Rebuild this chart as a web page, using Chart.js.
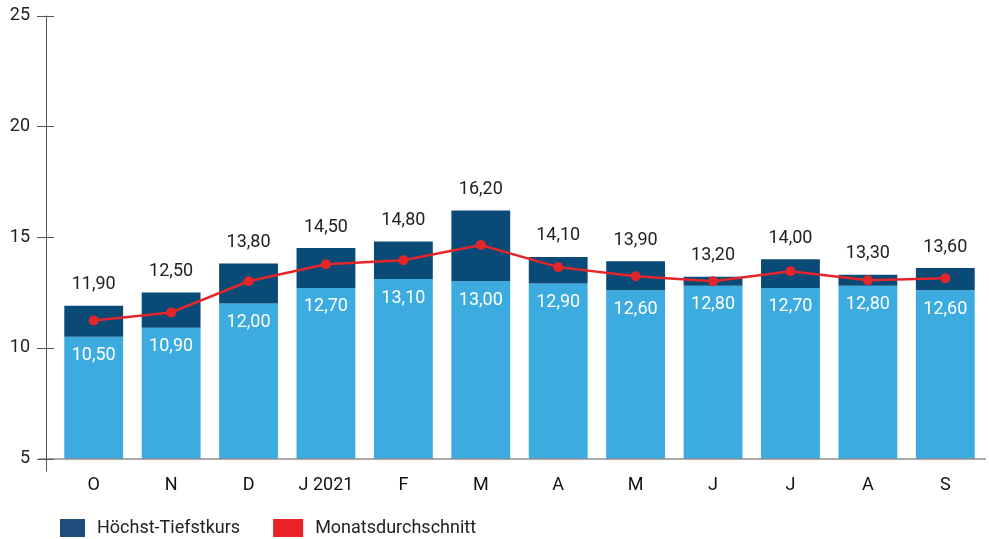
<!DOCTYPE html>
<html>
<head>
<meta charset="utf-8">
<script src="https://cdn.jsdelivr.net/npm/chart.js@4.4.1/dist/chart.umd.min.js"></script>
<style>
  html, body { margin: 0; padding: 0; background: #fff; }
  #wrap { width: 989px; height: 539px; position: relative; }
</style>
</head>
<body>
<div id="wrap"><canvas id="myChart"></canvas></div>
<script>
const months = ['O', 'N', 'D', 'J 2021', 'F', 'M', 'A', 'M', 'J', 'J', 'A', 'S'];
const lows = [10.5, 10.9, 12.0, 12.7, 13.1, 13.0, 12.9, 12.6, 12.8, 12.7, 12.8, 12.6];
const highs = [11.9, 12.5, 13.8, 14.5, 14.8, 16.2, 14.1, 13.9, 13.2, 14.0, 13.3, 13.6];
const averages = [11.23, 11.59, 13.0, 13.77, 13.95, 14.64, 13.64, 13.23, 13.0, 13.45, 13.05, 13.14];
const yTicks = [5, 10, 15, 20, 25];

const LIGHT = '#3babe0';
const NAVY = '#0a4a76';
const RED = '#e4262b';
const FONT = 'Roboto';

function fmt(v) {
  return v.toFixed(2).replace('.', ',');
}

var ctx = document.getElementById('myChart').getContext('2d');

var data1 = {
  labels: months,
  datasets: [
    {
      label: 'Tiefstkurs',
      type: 'bar',
      data: lows,
      backgroundColor: LIGHT,
      borderWidth: 0,
      grouped: false,
      order: 3,
      barPercentage: 0.76,
      categoryPercentage: 1
    },
    {
      label: 'Höchst-Tiefstkurs',
      type: 'bar',
      data: lows.map((l, i) => [l, highs[i]]),
      backgroundColor: NAVY,
      borderWidth: 0,
      grouped: false,
      order: 2,
      barPercentage: 0.76,
      categoryPercentage: 1,
      legendColor: '#1f4d7b'
    },
    {
      label: 'Monatsdurchschnitt',
      type: 'line',
      data: averages,
      borderColor: RED,
      backgroundColor: RED,
      borderWidth: 2.5,
      pointRadius: 5,
      pointBackgroundColor: RED,
      pointBorderWidth: 0,
      order: 1,
      legendColor: '#ea2228'
    }
  ]
};

// axis lines, tick marks and value labels
const axisAndLabels = {
  id: 'axisAndLabels',
  afterDatasetsDraw(chart) {
    const { ctx, chartArea } = chart;
    const yScale = chart.scales.y;
    const ax = chartArea.left - 9;
    ctx.save();
    ctx.strokeStyle = '#555';
    ctx.lineWidth = 1;
    ctx.beginPath();
    ctx.moveTo(ax + 0.5, chartArea.top);
    ctx.lineTo(ax + 0.5, chartArea.bottom + 13);
    ctx.moveTo(ax - 7, chartArea.bottom + 0.5);
    ctx.lineTo(chartArea.right + 2, chartArea.bottom + 0.5);
    yTicks.forEach(t => {
      const y = Math.round(yScale.getPixelForValue(t)) + 0.5;
      ctx.moveTo(ax - 9, y);
      ctx.lineTo(ax + 8, y);
    });
    ctx.stroke();

    ctx.font = '18px ' + FONT;
    ctx.textAlign = 'center';
    ctx.textBaseline = 'middle';
    chart.getDatasetMeta(1).data.forEach((bar, i) => {
      ctx.fillStyle = '#222';
      ctx.fillText(fmt(highs[i]), bar.x, bar.y - 21);
      ctx.fillStyle = '#fff';
      ctx.fillText(fmt(lows[i]), bar.x, bar.base + 19);
    });

    // legend
    const ly = 528;
    let lx = 60;
    [1, 2].forEach(idx => {
      const ds = chart.data.datasets[idx];
      const w = idx === 1 ? 25 : 30;
      ctx.fillStyle = ds.legendColor;
      ctx.fillRect(lx, ly - 9, w, 18);
      ctx.fillStyle = '#222';
      ctx.textAlign = 'left';
      ctx.font = '18px ' + FONT;
      ctx.fillText(ds.label, lx + w + 12, ly);
      lx += w + 12 + ctx.measureText(ds.label).width + 33;
    });
    ctx.restore();
  }
};

var options = {
  responsive: true,
  maintainAspectRatio: false,
  animation: false,
  layout: { padding: { top: 15.5, right: 1, bottom: 40, left: 0 } },
  plugins: {
    legend: { display: false },
    tooltip: { enabled: false }
  },
  scales: {
    x: {
      grid: { display: false, drawTicks: false },
      border: { display: false },
      ticks: { color: '#111', font: { family: FONT, size: 18 }, padding: 16 },
      afterFit(s) { s.height = 40.5; }
    },
    y: {
      min: 5,
      max: 25,
      grid: { display: false, drawTicks: false },
      border: { display: false },
      ticks: { stepSize: 5, color: '#222', font: { family: FONT, size: 18 }, padding: 25 },
      afterFit(s) {
        s.width = 55;
        s.paddingTop = 8;
        s.paddingBottom = 0;
      }
    }
  }
};

var chart1 = new Chart(ctx, {
  type: 'bar',
  data: data1,
  options: options,
  plugins: [axisAndLabels]
});
</script>
</body>
</html>
